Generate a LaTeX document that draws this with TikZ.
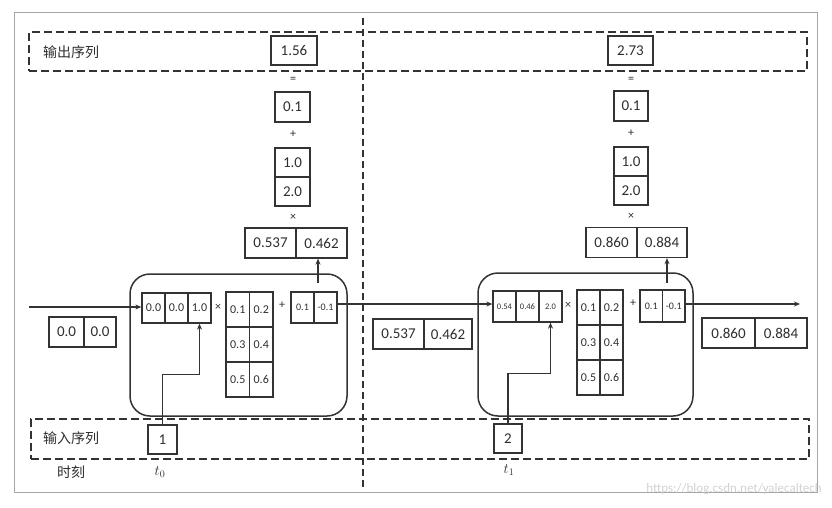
\documentclass[tikz,border=0pt]{standalone}
\usepackage{fontspec}
\setmainfont{Carlito}
\newfontfamily\cjk{Noto Sans CJK SC}
\usetikzlibrary{arrows.meta}
\definecolor{ln}{HTML}{333333}
\definecolor{tx}{HTML}{2E2E2E}
\tikzset{
  cellbox/.style={draw=ln, line width=1.3pt, inner sep=0pt, text=tx, font=\fontsize{15}{15}\selectfont},
  midnum/.style={font=\fontsize{12}{12}\selectfont},
  smallnum/.style={font=\fontsize{10}{10}\selectfont},
  tinynum/.style={font=\fontsize{8.5}{8.5}\selectfont},
  opsign/.style={text=tx, inner sep=0pt, font=\fontsize{12}{12}\selectfont},
  arr/.style={-{Stealth[length=6pt,width=5pt]}, draw=ln, line width=1.4pt},
  cellframe/.style={draw=ln, line width=1.5pt, rounded corners=20pt, inner sep=0pt},
  seqbox/.style={draw=ln, line width=1.3pt, dash pattern=on 8pt off 4pt, inner sep=0pt},
  lbl/.style={text=tx, inner sep=0pt, font=\cjk\fontsize{14}{14}\selectfont},
}
\begin{document}
\begin{tikzpicture}[x=1pt,y=-1pt]
\useasboundingbox (0,0) rectangle (832,508);
% outer frame
\draw[gray!70, line width=1pt] (14,13) rectangle (817,492);
% dashed separator
\draw[ln, line width=1.3pt, dash pattern=on 7pt off 4pt] (363,18) -- (363,487);
% sequence boxes
\node[seqbox, minimum width=778pt, minimum height=39pt] (outseq) at (418,51.5) {};
\node[seqbox, minimum width=778pt, minimum height=40pt] (inseq) at (420,439) {};
\node[lbl, anchor=west] (outlbl) at (43,52) {输出序列};
\node[lbl, anchor=west] (inlbl) at (43,438) {输入序列};
\node[lbl, anchor=west] (timelbl) at (57,472) {时刻};
\node[text=tx, font=\fontsize{14}{14}\selectfont] (t0) at (160,472) {$t_0$};
\node[text=tx, font=\fontsize{14}{14}\selectfont] (t1) at (509,470) {$t_1$};

% ---------- left output column ----------
\node[cellbox, minimum width=46pt, minimum height=29pt] (o1) at (294,50.5) {1.56};
\node[opsign] (eq1) at (293,80) {=};
\node[cellbox, minimum width=35pt, minimum height=30pt] (b1) at (292.5,107) {0.1};
\node[opsign] (pl1) at (293,134) {+};
\node[cellbox, minimum width=35pt, minimum height=29pt] (v1a) at (292.5,162.5) {1.0};
\node[cellbox, minimum width=35pt, minimum height=29pt] (v1b) at (292.5,191.5) {2.0};
\node[opsign] (tm1) at (293,217) {×};
\node[cellbox, minimum width=51pt, minimum height=30pt] (h1a) at (270.5,243) {0.537};
\node[cellbox, minimum width=51pt, minimum height=30pt] (h1b) at (321.5,243) {0.462};

% ---------- right output column ----------
\node[cellbox, minimum width=45pt, minimum height=29pt] (o2) at (630.5,50.5) {2.73};
\node[opsign] (eq2) at (631,80) {=};
\node[cellbox, minimum width=34pt, minimum height=30pt] (b2) at (631,106) {0.1};
\node[opsign] (pl2) at (631,133) {+};
\node[cellbox, minimum width=34pt, minimum height=29pt] (v2a) at (631,161.5) {1.0};
\node[cellbox, minimum width=34pt, minimum height=29pt] (v2b) at (631,190.5) {2.0};
\node[opsign] (tm2) at (631,216) {×};
\node[cellbox, minimum width=51pt, minimum height=30pt] (h2a) at (611.5,242.5) {0.860};
\node[cellbox, minimum width=50pt, minimum height=30pt] (h2b) at (662,242.5) {0.884};

% ---------- cell 1 ----------
\node[cellframe, minimum width=217pt, minimum height=142pt] (cell1) at (238.5,345) {};
\node[cellbox, midnum, minimum width=23pt, minimum height=30pt] (x1a) at (153.5,308) {0.0};
\node[cellbox, midnum, minimum width=23pt, minimum height=30pt] (x1b) at (176.5,308) {0.0};
\node[cellbox, midnum, minimum width=23pt, minimum height=30pt] (x1c) at (199.5,308) {1.0};
\node[opsign] (tmc1) at (218,307) {×};
\node[cellbox, midnum, minimum width=23.5pt, minimum height=35pt] (w1a) at (237.75,309.5) {0.1};
\node[cellbox, midnum, minimum width=23.5pt, minimum height=35pt] (w1b) at (261.25,309.5) {0.2};
\node[cellbox, midnum, minimum width=23.5pt, minimum height=35pt] (w1c) at (237.75,344.5) {0.3};
\node[cellbox, midnum, minimum width=23.5pt, minimum height=35pt] (w1d) at (261.25,344.5) {0.4};
\node[cellbox, midnum, minimum width=23.5pt, minimum height=35pt] (w1e) at (237.75,379.5) {0.5};
\node[cellbox, midnum, minimum width=23.5pt, minimum height=35pt] (w1f) at (261.25,379.5) {0.6};
\node[opsign] (plc1) at (282,305) {+};
\node[cellbox, smallnum, minimum width=23pt, minimum height=31pt] (c1a) at (302.5,307.5) {0.1};
\node[cellbox, smallnum, minimum width=23pt, minimum height=31pt] (c1b) at (325.5,307.5) {-0.1};

% ---------- cell 2 ----------
\node[cellframe, minimum width=215pt, minimum height=143pt] (cell2) at (585.5,344.5) {};
\node[cellbox, tinynum, minimum width=23pt, minimum height=31pt] (x2a) at (504.5,306.5) {0.54};
\node[cellbox, tinynum, minimum width=23pt, minimum height=31pt] (x2b) at (527.5,306.5) {0.46};
\node[cellbox, tinynum, minimum width=23pt, minimum height=31pt] (x2c) at (550.5,306.5) {2.0};
\node[opsign] (tmc2) at (568,305) {×};
\node[cellbox, midnum, minimum width=23pt, minimum height=35pt] (w2a) at (588.5,307.5) {0.1};
\node[cellbox, midnum, minimum width=23pt, minimum height=35pt] (w2b) at (611.5,307.5) {0.2};
\node[cellbox, midnum, minimum width=23pt, minimum height=35pt] (w2c) at (588.5,342.5) {0.3};
\node[cellbox, midnum, minimum width=23pt, minimum height=35pt] (w2d) at (611.5,342.5) {0.4};
\node[cellbox, midnum, minimum width=23pt, minimum height=35pt] (w2e) at (588.5,377.5) {0.5};
\node[cellbox, midnum, minimum width=23pt, minimum height=35pt] (w2f) at (611.5,377.5) {0.6};
\node[opsign] (plc2) at (633,303) {+};
\node[cellbox, smallnum, minimum width=22.5pt, minimum height=32pt] (c2a) at (651.25,306) {0.1};
\node[cellbox, smallnum, minimum width=22.5pt, minimum height=32pt] (c2b) at (673.75,306) {-0.1};

% ---------- state boxes ----------
\node[cellbox, minimum width=35pt, minimum height=30pt] (s0a) at (66.5,332) {0.0};
\node[cellbox, minimum width=32pt, minimum height=30pt] (s0b) at (100,332) {0.0};
\node[cellbox, minimum width=51pt, minimum height=30pt] (s1a) at (398.5,334) {0.537};
\node[cellbox, minimum width=48pt, minimum height=30pt] (s1b) at (448,334) {0.462};
\node[cellbox, minimum width=53pt, minimum height=30pt] (s2a) at (728.5,333) {0.860};
\node[cellbox, minimum width=52pt, minimum height=30pt] (s2b) at (781,333) {0.884};

% ---------- inputs ----------
\node[cellbox, minimum width=29pt, minimum height=29pt] (in1) at (162.5,439.5) {1};
\node[cellbox, minimum width=28pt, minimum height=29pt] (in2) at (508,438.5) {2};

% ---------- connectors ----------
\coordinate (start) at (29,307);
\coordinate (finish) at (800,304);
\draw[arr] (start) -- (start -| x1a.west);
\draw[arr] (c1b.east |- 0,304) -- (x2a.west |- 0,304);
\draw[arr] (c2b.east |- finish) -- (finish);
\coordinate (u1) at (318,283);
\coordinate (u2) at (667,283);
\draw[arr] (u1) -- (u1 |- h1b.south);
\draw[arr] (u2) -- (u2 |- h2b.south);
\draw[arr] (in1.north) -- ++(0,-50) -| (x1c.south);
\draw[arr] (in2.north) -- ++(0,-50) -| (x2c.south);

% watermark
\node[text=gray!35, anchor=east, inner sep=0pt, font=\fontsize{13}{13}\selectfont] (wm) at (822,489) {https://blog.csdn.net/yalecaltech};
\end{tikzpicture}
\end{document}
